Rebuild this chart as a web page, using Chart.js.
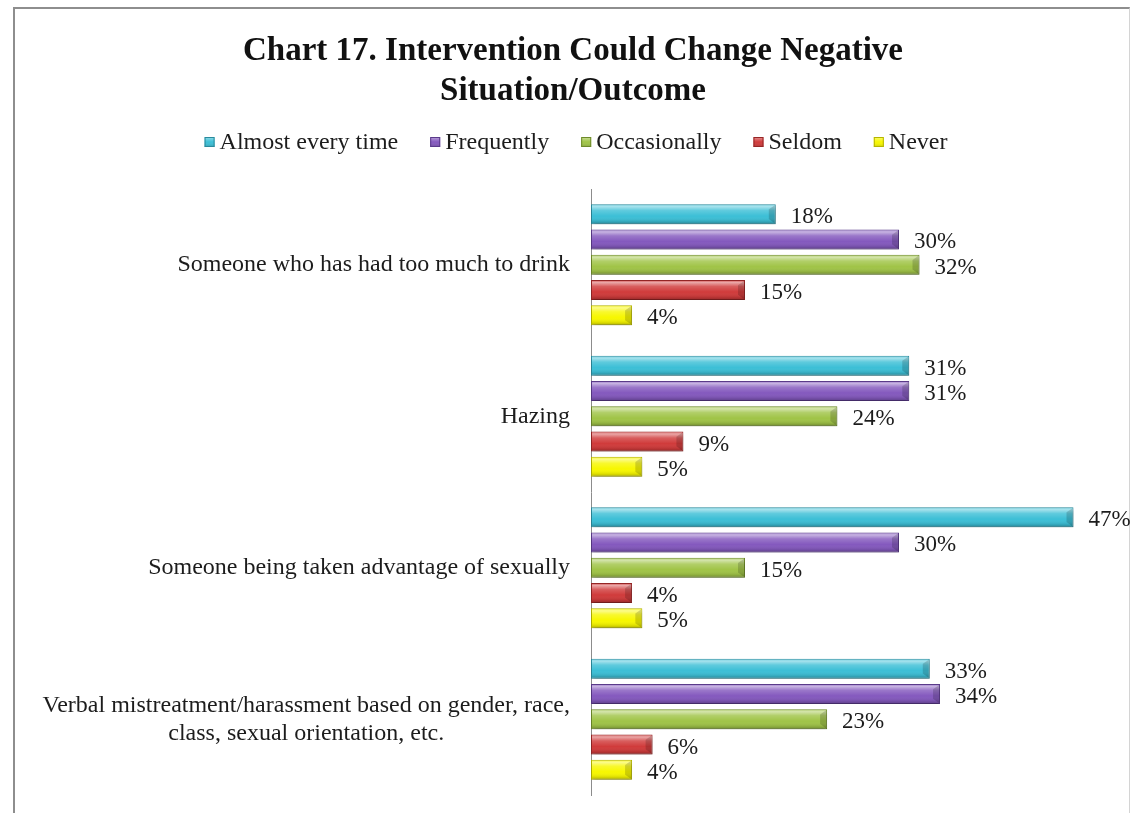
<!DOCTYPE html>
<html>
<head>
<meta charset="utf-8">
<title>Chart 17</title>
<script src="https://cdn.jsdelivr.net/npm/chart.js@4.4.0/dist/chart.umd.min.js"></script>
<style>
  html, body { margin: 0; padding: 0; background: #ffffff; }
  #frame {
    position: absolute; left: 13px; top: 7px; width: 1117px; height: 810px;
    border-top: 2px solid #8e8e8e; border-left: 2px solid #8e8e8e; border-right: 1px solid #d4d4d4;
    box-sizing: border-box;
  }
  #wrap { position: absolute; left: 0; top: 0; width: 1131px; height: 813px; }
</style>
</head>
<body>
<div id="frame"></div>
<div id="wrap"><canvas id="c" width="1131" height="813"></canvas></div>
<script>
// Situations asked about (multi-line entries are wrapped labels)
const categories = [
  ["Someone who has had too much to drink"],
  ["Hazing"],
  ["Someone being taken advantage of sexually"],
  ["Verbal mistreatment/harassment based on gender, race,", "class, sexual orientation, etc."]
];

const seriesNames = ["Almost every time", "Frequently", "Occasionally", "Seldom", "Never"];

// Percent of respondents per answer
const almostEveryTime = [18, 31, 47, 33];
const frequently      = [30, 31, 30, 34];
const occasionally    = [32, 24, 15, 23];
const seldom          = [15, 9, 4, 6];
const never           = [4, 5, 5, 4];

const chartTitle = ["Chart 17. Intervention Could Change Negative", "Situation/Outcome"];

const fills   = ["#3cbfd6", "#8459be", "#a0c447", "#d03b3b", "#f7f700"];
const borders = ["#2a8a9c", "#5a3a8a", "#6d8a2a", "#962626", "#b5b500"];

const SERIF = '"Liberation Serif", "Times New Roman", serif';

const seriesValues = [almostEveryTime, frequently, occasionally, seldom, never];

// Soft drop shadow under the bars
const barShadow = {
  id: 'barShadow',
  beforeDatasetsDraw(chart) {
    const ctx = chart.ctx;
    ctx.save();
    ctx.shadowColor = 'rgba(0,0,0,0.28)';
    ctx.shadowBlur = 4;
    ctx.shadowOffsetX = 1;
    ctx.shadowOffsetY = 3;
  },
  afterDatasetsDraw(chart) {
    chart.ctx.restore();
  }
};

// Bevelled highlight on each bar, then the value labels
const bevelAndLabels = {
  id: 'bevelAndLabels',
  afterDatasetsDraw(chart) {
    const ctx = chart.ctx;
    chart.data.datasets.forEach((ds, di) => {
      const meta = chart.getDatasetMeta(di);
      meta.data.forEach((bar, i) => {
        const x0 = bar.base, x1 = bar.x;
        const h = bar.height;
        const top = bar.y - h / 2, bot = bar.y + h / 2;
        const w = x1 - x0;
        ctx.save();
        // vertical shading
        const g = ctx.createLinearGradient(0, top, 0, bot);
        g.addColorStop(0, 'rgba(255,255,255,0.15)');
        g.addColorStop(0.12, 'rgba(255,255,255,0.55)');
        g.addColorStop(0.32, 'rgba(255,255,255,0.18)');
        g.addColorStop(0.6, 'rgba(255,255,255,0)');
        g.addColorStop(0.85, 'rgba(0,0,0,0.10)');
        g.addColorStop(1, 'rgba(0,0,0,0.30)');
        ctx.fillStyle = g;
        ctx.fillRect(x0 + 1, top + 1, Math.max(0, w - 2), h - 2);
        // end bevel
        const b = Math.min(6, w / 3);
        ctx.beginPath();
        ctx.moveTo(x1 - 1, top + 1);
        ctx.lineTo(x1 - 1, bot - 1);
        ctx.lineTo(x1 - 1 - b, bot - 1 - b * 0.7);
        ctx.lineTo(x1 - 1 - b, top + 1 + b * 0.7);
        ctx.closePath();
        ctx.fillStyle = 'rgba(0,0,0,0.16)';
        ctx.fill();
        ctx.restore();

        // value label
        ctx.save();
        ctx.font = '23px ' + SERIF;
        ctx.fillStyle = '#1c1c1c';
        ctx.textAlign = 'left';
        ctx.textBaseline = 'middle';
        ctx.fillText(ds.data[i] + '%', x1 + 15, bar.y + 3);
        ctx.restore();
      });
    });
  }
};

// Category labels: right-aligned block, wrapped lines centred within it
const categoryLabels = {
  id: 'categoryLabels',
  afterDraw(chart) {
    const ctx = chart.ctx;
    const yScale = chart.scales.y;
    const right = chart.chartArea.left - 21;
    const lineH = 28;
    ctx.save();
    ctx.font = '24px ' + SERIF;
    ctx.fillStyle = '#1c1c1c';
    ctx.textBaseline = 'middle';
    ctx.textAlign = 'center';
    categories.forEach((lines, i) => {
      const yc = yScale.getPixelForValue(i);
      const blockW = Math.max(...lines.map(l => ctx.measureText(l).width));
      const cx = right - blockW / 2;
      const y0 = yc - (lines.length - 1) * lineH / 2;
      lines.forEach((l, k) => ctx.fillText(l, cx, y0 + k * lineH));
    });
    ctx.restore();
  }
};

// Compact legend row: small square swatch right next to its text
const legendRow = {
  id: 'legendRow',
  afterDraw(chart) {
    const ctx = chart.ctx;
    const box = 10, gapText = 5, gapItem = 32, y = 142;
    ctx.save();
    ctx.font = '24px ' + SERIF;
    ctx.textBaseline = 'middle';
    ctx.textAlign = 'left';
    const items = chart.data.datasets.map(ds => ({
      text: ds.label, fill: ds.backgroundColor, stroke: ds.borderColor,
      w: box + gapText + ctx.measureText(ds.label).width
    }));
    const total = items.reduce((s, it) => s + it.w, 0) + gapItem * (items.length - 1);
    const center = 15 + (chart.width - 15) / 2 + 3;
    let x = center - total / 2;
    items.forEach(it => {
      ctx.fillStyle = it.fill;
      ctx.fillRect(x, y - box / 2, box, box);
      const g = ctx.createLinearGradient(0, y - box / 2, 0, y + box / 2);
      g.addColorStop(0, 'rgba(255,255,255,0.45)');
      g.addColorStop(0.5, 'rgba(255,255,255,0)');
      g.addColorStop(1, 'rgba(0,0,0,0.2)');
      ctx.fillStyle = g;
      ctx.fillRect(x, y - box / 2, box, box);
      ctx.strokeStyle = it.stroke;
      ctx.lineWidth = 1;
      ctx.strokeRect(x + 0.5, y - box / 2 + 0.5, box - 1, box - 1);
      ctx.fillStyle = '#1c1c1c';
      ctx.fillText(it.text, x + box + gapText, y + 1);
      x += it.w + gapItem;
    });
    ctx.restore();
  }
};

new Chart(document.getElementById('c'), {
  type: 'bar',
  data: {
    labels: categories.map(c => c.join(' ')),
    datasets: seriesNames.map((name, k) => ({
      label: name,
      data: seriesValues[k],
      backgroundColor: fills[k],
      borderColor: borders[k],
      borderWidth: 1,
      borderSkipped: false,
      categoryPercentage: 0.835,
      barPercentage: 0.79
    }))
  },
  options: {
    indexAxis: 'y',
    responsive: false,
    animation: false,
    events: [],
    layout: { padding: { left: 15, right: 0, top: 0, bottom: 18 } },
    scales: {
      x: { display: false, min: 0, max: 52.6 },
      y: {
        grid: { display: false, drawTicks: false },
        border: { display: true, color: '#8c8c8c', width: 1 },
        ticks: { display: false },
        afterFit(scale) { scale.width = 576; }
      }
    },
    plugins: {
      title: {
        display: true,
        text: chartTitle,
        font: { family: SERIF, size: 33, weight: 'bold', lineHeight: 40 / 33 },
        color: '#111111',
        padding: { top: 31, bottom: 78 }
      },
      legend: { display: false },
      tooltip: { enabled: false }
    }
  },
  plugins: [barShadow, bevelAndLabels, categoryLabels, legendRow]
});
</script>
</body>
</html>
